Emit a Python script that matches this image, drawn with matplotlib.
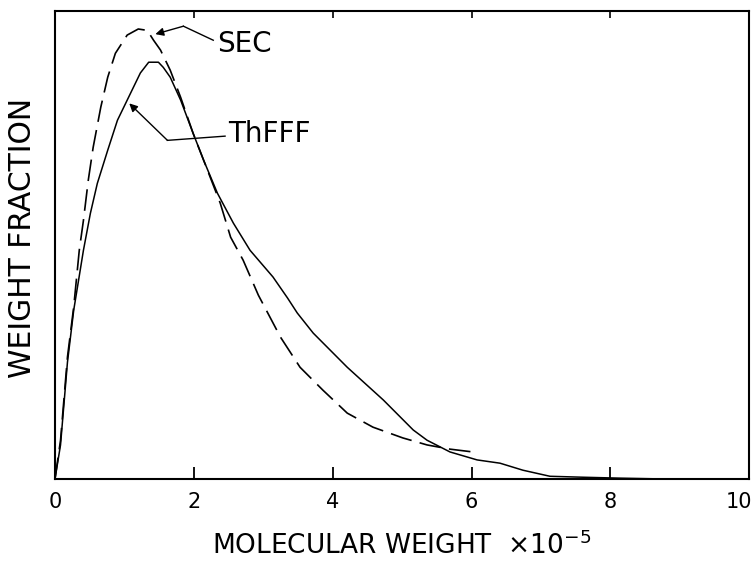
import matplotlib
matplotlib.use("Agg")
import matplotlib.pyplot as plt
import matplotlib.transforms as mtransforms

# Molecular weight (x 10^-5) and relative weight fraction, SEC trace
sec_mw = [0.0, 0.08, 0.18, 0.27, 0.35, 0.41, 0.48, 0.55, 0.66, 0.76, 0.87,
          1.04, 1.20, 1.33, 1.42, 1.52, 1.66, 1.81, 1.99, 2.14, 2.38, 2.53,
          2.71, 2.93, 3.25, 3.53, 3.86, 4.21, 4.58, 5.01, 5.36, 5.69, 6.02]
sec_wf = [0.0, 0.083, 0.261, 0.368, 0.489, 0.553, 0.639, 0.709, 0.795, 0.859,
          0.910, 0.949, 0.962, 0.959, 0.938, 0.917, 0.874, 0.816, 0.739,
          0.682, 0.590, 0.517, 0.468, 0.393, 0.303, 0.239, 0.190, 0.141,
          0.111, 0.088, 0.073, 0.064, 0.058]

# ThFFF trace
thf_mw = [0.0, 0.08, 0.18, 0.27, 0.41, 0.51, 0.61, 0.76, 0.90, 1.06, 1.23,
          1.35, 1.49, 1.56, 1.66, 1.81, 1.99, 2.14, 2.34, 2.57, 2.81, 3.14,
          3.35, 3.49, 3.72, 4.21, 4.73, 5.16, 5.36, 5.69, 6.08, 6.41, 6.74,
          7.13, 7.60, 8.14, 8.86]
thf_wf = [0.0, 0.073, 0.250, 0.361, 0.489, 0.568, 0.632, 0.703, 0.767, 0.816,
          0.868, 0.891, 0.891, 0.880, 0.859, 0.810, 0.739, 0.682, 0.611,
          0.547, 0.489, 0.432, 0.387, 0.355, 0.312, 0.239, 0.169, 0.105,
          0.083, 0.058, 0.041, 0.034, 0.019, 0.006, 0.004, 0.002, 0.0]

x_ticks = [0, 2, 4, 6, 8, 10]

fig = plt.figure(figsize=(7.53, 5.61), dpi=100)
ax = fig.add_axes([0.073, 0.146, 0.922, 0.834])

ax.plot(sec_mw, sec_wf, color="black", lw=1.2, linestyle=(0, (13, 5)),
        solid_joinstyle="round", dash_joinstyle="round")
ax.plot(thf_mw, thf_wf, color="black", lw=1.1, solid_joinstyle="round")

ax.set_xlim(0, 10)
ax.set_ylim(0, 1)
ax.set_xticks(x_ticks)
ax.set_xticklabels([str(t) for t in x_ticks])
ax.set_yticks([])
ax.tick_params(axis="x", direction="in", length=9, width=1.3,
               labelsize=15, pad=9)
for sp in ax.spines.values():
    sp.set_linewidth(1.5)

# last label sits against the right edge, nudge it inward
last = ax.get_xticklabels()[-1]
last.set_transform(last.get_transform() +
                   mtransforms.ScaledTranslation(-10 / 100, 0, fig.dpi_scale_trans))

top = ax.secondary_xaxis("top")
top.set_xticks(x_ticks[1:-1])
top.tick_params(direction="in", length=5, width=1.2, labeltop=False)
top.spines["top"].set_visible(False)

ax.set_xlabel("MOLECULAR WEIGHT  \u00d710$^{-5}$", fontsize=19, labelpad=14)
ax.set_ylabel("WEIGHT FRACTION", fontsize=21.5)
ax.yaxis.set_label_coords(-0.026, 0.515)

# callouts: text, leader line, arrow
ax.text(2.34, 0.929, "SEC", fontsize=20, ha="left", va="center")
ax.plot([2.28, 1.85], [0.938, 0.968], color="black", lw=1.0)
ax.annotate("", xy=(1.446, 0.951), xytext=(1.85, 0.968),
            arrowprops=dict(arrowstyle="-|>", color="black", lw=1.0,
                            mutation_scale=12, shrinkA=0, shrinkB=0))

ax.text(2.50, 0.737, "ThFFF", fontsize=20, ha="left", va="center")
ax.plot([2.45, 1.62], [0.733, 0.724], color="black", lw=1.0)
ax.annotate("", xy=(1.07, 0.803), xytext=(1.62, 0.724),
            arrowprops=dict(arrowstyle="-|>", color="black", lw=1.0,
                            mutation_scale=12, shrinkA=0, shrinkB=0))

fig.savefig("out.png", dpi=100)
